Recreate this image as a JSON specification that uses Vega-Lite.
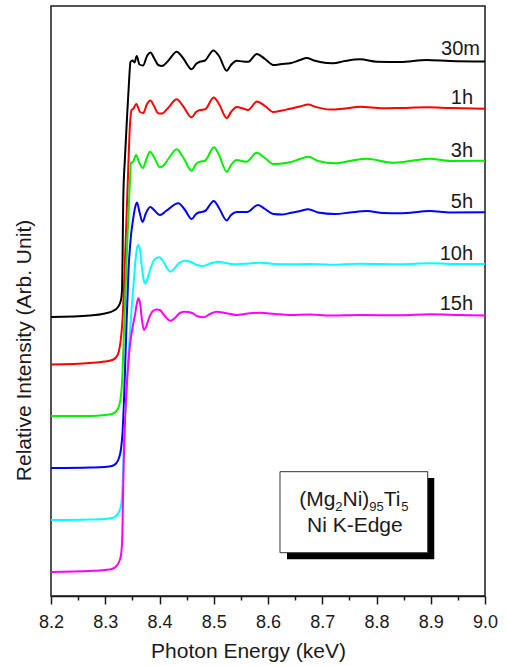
{
  "$schema": "https://vega.github.io/schema/vega-lite/v6.json",
  "width": 434,
  "height": 590,
  "autosize": {"type": "none"},
  "padding": {"left": 51, "top": 6, "right": 22, "bottom": 70},
  "config": {
    "font": "Liberation Sans",
    "view": {"stroke": "#1a1a1a", "strokeWidth": 1.5},
    "axis": {"grid": false}
  },
  "datasets": {
    "curves": [
      {"s":"30m","e":8.2,"v":279},{"s":"30m","e":8.2719,"v":280.5},{"s":"30m","e":8.2995,"v":282.5},{"s":"30m","e":8.3143,"v":285},{"s":"30m","e":8.3235,"v":289},{"s":"30m","e":8.3290,"v":296},{"s":"30m","e":8.3309,"v":306},{"s":"30m","e":8.3333,"v":399},{"s":"30m","e":8.3364,"v":439},{"s":"30m","e":8.3401,"v":478},{"s":"30m","e":8.3438,"v":514},{"s":"30m","e":8.3465,"v":534},{"s":"30m","e":8.3502,"v":535.5},{"s":"30m","e":8.3539,"v":533.5},{"s":"30m","e":8.3580,"v":540},{"s":"30m","e":8.3631,"v":531.5},{"s":"30m","e":8.3696,"v":530.5},{"s":"30m","e":8.3770,"v":540},{"s":"30m","e":8.3834,"v":543.5},{"s":"30m","e":8.3899,"v":538},{"s":"30m","e":8.3978,"v":531},{"s":"30m","e":8.4046,"v":530},{"s":"30m","e":8.4157,"v":535},{"s":"30m","e":8.4317,"v":544.3},{"s":"30m","e":8.4433,"v":538},{"s":"30m","e":8.4594,"v":526.7},{"s":"30m","e":8.4673,"v":532},{"s":"30m","e":8.4747,"v":534.3},{"s":"30m","e":8.4839,"v":535.5},{"s":"30m","e":8.4992,"v":545.5},{"s":"30m","e":8.5097,"v":540},{"s":"30m","e":8.5239,"v":525.3},{"s":"30m","e":8.5318,"v":531},{"s":"30m","e":8.5423,"v":535.3},{"s":"30m","e":8.5539,"v":534.5},{"s":"30m","e":8.5637,"v":534.3},{"s":"30m","e":8.5792,"v":542},{"s":"30m","e":8.5945,"v":537},{"s":"30m","e":8.6098,"v":531},{"s":"30m","e":8.6258,"v":532},{"s":"30m","e":8.6406,"v":532.7},{"s":"30m","e":8.6590,"v":536},{"s":"30m","e":8.6713,"v":538},{"s":"30m","e":8.6848,"v":535.5},{"s":"30m","e":8.6959,"v":534},{"s":"30m","e":8.7198,"v":532.7},{"s":"30m","e":8.7419,"v":535},{"s":"30m","e":8.7696,"v":536.7},{"s":"30m","e":8.8004,"v":534.3},{"s":"30m","e":8.8433,"v":534},{"s":"30m","e":8.8925,"v":536},{"s":"30m","e":8.9355,"v":535},{"s":"30m","e":9.0,"v":534.5},

      {"s":"1h","e":8.2,"v":231.5},{"s":"1h","e":8.2719,"v":233},{"s":"1h","e":8.2995,"v":234.5},{"s":"1h","e":8.3124,"v":236},{"s":"1h","e":8.3198,"v":238.5},{"s":"1h","e":8.3253,"v":245},{"s":"1h","e":8.3290,"v":258},{"s":"1h","e":8.3318,"v":276},{"s":"1h","e":8.3364,"v":336},{"s":"1h","e":8.3410,"v":406},{"s":"1h","e":8.3456,"v":471},{"s":"1h","e":8.3484,"v":486},{"s":"1h","e":8.3521,"v":487.5},{"s":"1h","e":8.3572,"v":492},{"s":"1h","e":8.3641,"v":484},{"s":"1h","e":8.3701,"v":483},{"s":"1h","e":8.3770,"v":492},{"s":"1h","e":8.3834,"v":495.5},{"s":"1h","e":8.3899,"v":490},{"s":"1h","e":8.3978,"v":482.7},{"s":"1h","e":8.4046,"v":482.5},{"s":"1h","e":8.4157,"v":488},{"s":"1h","e":8.4317,"v":496.7},{"s":"1h","e":8.4433,"v":490},{"s":"1h","e":8.4594,"v":478.7},{"s":"1h","e":8.4673,"v":484},{"s":"1h","e":8.4747,"v":486},{"s":"1h","e":8.4839,"v":486.7},{"s":"1h","e":8.5001,"v":498.5},{"s":"1h","e":8.5097,"v":492},{"s":"1h","e":8.5239,"v":478},{"s":"1h","e":8.5318,"v":484},{"s":"1h","e":8.5423,"v":489},{"s":"1h","e":8.5539,"v":487.5},{"s":"1h","e":8.5631,"v":486},{"s":"1h","e":8.5797,"v":494.5},{"s":"1h","e":8.5945,"v":490},{"s":"1h","e":8.6098,"v":484},{"s":"1h","e":8.6258,"v":485.5},{"s":"1h","e":8.6406,"v":487.3},{"s":"1h","e":8.6590,"v":489.5},{"s":"1h","e":8.6737,"v":491.5},{"s":"1h","e":8.6885,"v":489},{"s":"1h","e":8.7143,"v":486.5},{"s":"1h","e":8.7419,"v":487.5},{"s":"1h","e":8.7696,"v":489.3},{"s":"1h","e":8.8120,"v":487.7},{"s":"1h","e":8.8433,"v":488},{"s":"1h","e":8.8925,"v":488.7},{"s":"1h","e":8.9355,"v":488},{"s":"1h","e":9.0,"v":487.3},

      {"s":"3h","e":8.2,"v":180},{"s":"3h","e":8.2719,"v":180},{"s":"3h","e":8.2995,"v":181},{"s":"3h","e":8.3124,"v":182},{"s":"3h","e":8.3198,"v":184.5},{"s":"3h","e":8.3253,"v":190},{"s":"3h","e":8.3287,"v":199},{"s":"3h","e":8.3309,"v":213},{"s":"3h","e":8.3346,"v":266},{"s":"3h","e":8.3401,"v":346},{"s":"3h","e":8.3447,"v":406},{"s":"3h","e":8.3475,"v":433},{"s":"3h","e":8.3517,"v":434.5},{"s":"3h","e":8.3567,"v":441},{"s":"3h","e":8.3622,"v":434},{"s":"3h","e":8.3690,"v":428},{"s":"3h","e":8.3760,"v":437},{"s":"3h","e":8.3825,"v":444.3},{"s":"3h","e":8.3899,"v":439},{"s":"3h","e":8.4009,"v":428.7},{"s":"3h","e":8.4083,"v":431},{"s":"3h","e":8.4175,"v":438},{"s":"3h","e":8.4317,"v":446.7},{"s":"3h","e":8.4433,"v":439},{"s":"3h","e":8.4594,"v":425.3},{"s":"3h","e":8.4673,"v":432},{"s":"3h","e":8.4747,"v":434.3},{"s":"3h","e":8.4839,"v":435.3},{"s":"3h","e":8.5005,"v":448.7},{"s":"3h","e":8.5097,"v":441},{"s":"3h","e":8.5239,"v":424.3},{"s":"3h","e":8.5318,"v":431},{"s":"3h","e":8.5423,"v":436},{"s":"3h","e":8.5512,"v":435},{"s":"3h","e":8.5607,"v":434.3},{"s":"3h","e":8.5792,"v":443.3},{"s":"3h","e":8.5945,"v":438},{"s":"3h","e":8.6098,"v":432},{"s":"3h","e":8.6258,"v":432.5},{"s":"3h","e":8.6406,"v":433.7},{"s":"3h","e":8.6590,"v":437},{"s":"3h","e":8.6743,"v":439.3},{"s":"3h","e":8.6922,"v":435},{"s":"3h","e":8.7235,"v":432.7},{"s":"3h","e":8.7512,"v":435},{"s":"3h","e":8.7820,"v":437.3},{"s":"3h","e":8.8304,"v":433.3},{"s":"3h","e":8.8618,"v":435},{"s":"3h","e":8.8986,"v":437.3},{"s":"3h","e":8.9355,"v":435},{"s":"3h","e":9.0,"v":435.3},

      {"s":"5h","e":8.2,"v":128},{"s":"5h","e":8.2719,"v":128.5},{"s":"5h","e":8.2995,"v":129},{"s":"5h","e":8.3124,"v":130},{"s":"5h","e":8.3198,"v":132.5},{"s":"5h","e":8.3253,"v":138},{"s":"5h","e":8.3290,"v":147},{"s":"5h","e":8.3318,"v":163},{"s":"5h","e":8.3346,"v":196},{"s":"5h","e":8.3382,"v":256},{"s":"5h","e":8.3429,"v":326},{"s":"5h","e":8.3475,"v":361},{"s":"5h","e":8.3512,"v":376},{"s":"5h","e":8.3548,"v":388},{"s":"5h","e":8.3585,"v":393.5},{"s":"5h","e":8.3631,"v":384},{"s":"5h","e":8.3687,"v":374},{"s":"5h","e":8.3751,"v":383},{"s":"5h","e":8.3830,"v":389},{"s":"5h","e":8.3899,"v":386},{"s":"5h","e":8.4009,"v":381},{"s":"5h","e":8.4120,"v":385},{"s":"5h","e":8.4347,"v":392.7},{"s":"5h","e":8.4470,"v":386},{"s":"5h","e":8.4594,"v":377},{"s":"5h","e":8.4673,"v":382},{"s":"5h","e":8.4765,"v":384},{"s":"5h","e":8.4839,"v":385},{"s":"5h","e":8.5001,"v":395},{"s":"5h","e":8.5097,"v":388},{"s":"5h","e":8.5239,"v":375.5},{"s":"5h","e":8.5318,"v":381},{"s":"5h","e":8.5423,"v":384},{"s":"5h","e":8.5521,"v":384},{"s":"5h","e":8.5613,"v":384},{"s":"5h","e":8.5816,"v":391},{"s":"5h","e":8.5945,"v":387},{"s":"5h","e":8.6098,"v":382},{"s":"5h","e":8.6258,"v":381.5},{"s":"5h","e":8.6406,"v":383},{"s":"5h","e":8.6590,"v":385},{"s":"5h","e":8.6743,"v":386.7},{"s":"5h","e":8.6922,"v":383.5},{"s":"5h","e":8.7235,"v":382},{"s":"5h","e":8.7512,"v":383.5},{"s":"5h","e":8.7820,"v":385},{"s":"5h","e":8.8120,"v":383},{"s":"5h","e":8.8433,"v":382.7},{"s":"5h","e":8.8986,"v":385},{"s":"5h","e":8.9355,"v":383.5},{"s":"5h","e":9.0,"v":383.7},

      {"s":"10h","e":8.2,"v":76},{"s":"10h","e":8.2719,"v":76.5},{"s":"10h","e":8.2995,"v":77},{"s":"10h","e":8.3124,"v":78},{"s":"10h","e":8.3198,"v":80},{"s":"10h","e":8.3253,"v":84},{"s":"10h","e":8.3290,"v":90},{"s":"10h","e":8.3314,"v":104},{"s":"10h","e":8.3336,"v":136},{"s":"10h","e":8.3364,"v":176},{"s":"10h","e":8.3401,"v":216},{"s":"10h","e":8.3447,"v":256},{"s":"10h","e":8.3484,"v":286},{"s":"10h","e":8.3521,"v":311},{"s":"10h","e":8.3558,"v":336},{"s":"10h","e":8.3585,"v":348},{"s":"10h","e":8.3609,"v":351},{"s":"10h","e":8.3641,"v":346},{"s":"10h","e":8.3677,"v":328},{"s":"10h","e":8.3709,"v":316},{"s":"10h","e":8.3733,"v":312.7},{"s":"10h","e":8.3770,"v":316},{"s":"10h","e":8.3843,"v":329},{"s":"10h","e":8.3917,"v":337},{"s":"10h","e":8.3996,"v":338.7},{"s":"10h","e":8.4065,"v":335},{"s":"10h","e":8.4138,"v":328},{"s":"10h","e":8.4206,"v":324.3},{"s":"10h","e":8.4267,"v":327},{"s":"10h","e":8.4359,"v":333},{"s":"10h","e":8.4470,"v":335.3},{"s":"10h","e":8.4581,"v":334},{"s":"10h","e":8.4691,"v":331},{"s":"10h","e":8.4807,"v":330},{"s":"10h","e":8.4931,"v":332.5},{"s":"10h","e":8.5084,"v":334.3},{"s":"10h","e":8.5226,"v":333},{"s":"10h","e":8.5423,"v":331.7},{"s":"10h","e":8.5631,"v":332.5},{"s":"10h","e":8.5853,"v":333.3},{"s":"10h","e":8.6129,"v":332},{"s":"10h","e":8.6406,"v":331.7},{"s":"10h","e":8.6774,"v":332},{"s":"10h","e":8.7143,"v":331.3},{"s":"10h","e":8.7696,"v":332.3},{"s":"10h","e":8.8433,"v":331.8},{"s":"10h","e":8.8986,"v":332.7},{"s":"10h","e":8.9539,"v":332},{"s":"10h","e":9.0,"v":332},

      {"s":"15h","e":8.2,"v":24},{"s":"15h","e":8.2719,"v":25},{"s":"15h","e":8.2995,"v":26},{"s":"15h","e":8.3124,"v":27},{"s":"15h","e":8.3198,"v":29.5},{"s":"15h","e":8.3253,"v":34},{"s":"15h","e":8.3290,"v":41},{"s":"15h","e":8.3312,"v":56},{"s":"15h","e":8.3327,"v":96},{"s":"15h","e":8.3346,"v":146},{"s":"15h","e":8.3373,"v":186},{"s":"15h","e":8.3410,"v":221},{"s":"15h","e":8.3456,"v":251},{"s":"15h","e":8.3502,"v":268},{"s":"15h","e":8.3548,"v":281},{"s":"15h","e":8.3585,"v":293},{"s":"15h","e":8.3609,"v":297.7},{"s":"15h","e":8.3641,"v":293},{"s":"15h","e":8.3677,"v":276},{"s":"15h","e":8.3714,"v":266},{"s":"15h","e":8.3751,"v":269},{"s":"15h","e":8.3806,"v":278},{"s":"15h","e":8.3880,"v":285},{"s":"15h","e":8.3948,"v":286.5},{"s":"15h","e":8.4009,"v":286},{"s":"15h","e":8.4083,"v":281},{"s":"15h","e":8.4206,"v":275.3},{"s":"15h","e":8.4286,"v":278},{"s":"15h","e":8.4378,"v":283},{"s":"15h","e":8.4470,"v":284.3},{"s":"15h","e":8.4599,"v":283},{"s":"15h","e":8.4691,"v":280},{"s":"15h","e":8.4807,"v":278.7},{"s":"15h","e":8.4931,"v":282},{"s":"15h","e":8.5054,"v":284.3},{"s":"15h","e":8.5207,"v":283},{"s":"15h","e":8.5423,"v":281},{"s":"15h","e":8.5631,"v":282.5},{"s":"15h","e":8.5853,"v":283.3},{"s":"15h","e":8.6129,"v":282},{"s":"15h","e":8.6406,"v":281},{"s":"15h","e":8.6774,"v":281.5},{"s":"15h","e":8.7143,"v":280.5},{"s":"15h","e":8.7696,"v":281},{"s":"15h","e":8.8433,"v":280.7},{"s":"15h","e":8.8986,"v":281.7},{"s":"15h","e":8.9539,"v":281},{"s":"15h","e":9.0,"v":280.5}
    ],
    "labels": [
      {"t":"30m","e":8.9908,"v":541},{"t":"1h","e":8.9779,"v":492.5},{"t":"3h","e":8.9779,"v":439},{"t":"5h","e":8.9779,"v":388},{"t":"10h","e":8.9779,"v":336},{"t":"15h","e":8.9779,"v":286}
    ],
    "shadow": [{"e":8.6350,"e2":8.9065,"v":36.7,"v2":118}],
    "box": [{"e":8.6221,"e2":8.8944,"v":43.3,"v2":124.3}],
    "ann": [
      {"t":"(Mg","e":8.6577,"v":90},{"t":"Ni)","e":8.7373,"v":90},{"t":"Ti","e":8.8135,"v":90},{"t":"Ni K-Edge","e":8.6719,"v":64}
    ],
    "sub": [
      {"t":"2","e":8.7241,"v":85},{"t":"95","e":8.7867,"v":85},{"t":"5","e":8.8457,"v":85}
    ]
  },
  "resolve": {"axis": {"x": "independent"}},
  "layer": [
    {
      "data": {"name": "curves"},
      "mark": {"type": "line", "strokeWidth": 2, "interpolate": "monotone"},
      "encoding": {
        "x": {
          "field": "e", "type": "quantitative",
          "scale": {"domain": [8.2, 9.0], "nice": false, "zero": false},
          "axis": {
            "orient": "bottom",
            "title": "Photon Energy (keV)",
            "values": [8.2, 8.3, 8.4, 8.5, 8.6, 8.7, 8.8, 8.9, 9.0],
            "format": ".1f",
            "labelFlush": false,
            "tickSize": 8, "tickWidth": 1.5, "tickColor": "#1a1a1a",
            "domainColor": "#1a1a1a", "domainWidth": 1.5,
            "labelFontSize": 18, "labelColor": "#1a1a1a", "labelBaseline": "alphabetic", "labelPadding": 23,
            "titleFontSize": 21, "titleFontWeight": "normal", "titleColor": "#1a1a1a",
            "titleX": 197, "titleY": 61, "titleBaseline": "alphabetic", "titleAlign": "center"
          }
        },
        "y": {
          "field": "v", "type": "quantitative",
          "scale": {"domain": [0, 590], "nice": false},
          "axis": {
            "title": "Relative Intensity (Arb. Unit)",
            "ticks": false, "labels": false, "domain": false,
            "titleFontSize": 21, "titleFontWeight": "normal", "titleColor": "#1a1a1a",
            "titleAngle": -90, "titleX": -27, "titleY": 344, "titleBaseline": "middle", "titleAlign": "center"
          }
        },
        "color": {
          "field": "s", "type": "nominal",
          "scale": {"domain": ["30m", "1h", "3h", "5h", "10h", "15h"], "range": ["#000000", "#ff0000", "#00f000", "#0000ff", "#00ffff", "#ff00ff"]},
          "legend": null
        }
      }
    },
    {
      "data": {"name": "labels"},
      "mark": {"type": "text", "align": "right", "baseline": "alphabetic", "fontSize": 20, "color": "#1a1a1a"},
      "encoding": {
        "x": {
          "field": "e", "type": "quantitative",
          "axis": {
            "orient": "bottom", "title": null, "labels": false, "domain": false,
            "values": [8.25, 8.35, 8.45, 8.55, 8.65, 8.75, 8.85, 8.95],
            "tickSize": 4, "tickWidth": 1.5, "tickColor": "#1a1a1a"
          }
        },
        "y": {"field": "v", "type": "quantitative"},
        "text": {"field": "t"}
      }
    },
    {
      "data": {"name": "shadow"},
      "mark": {"type": "rect", "fill": "#000000"},
      "encoding": {
        "x": {"field": "e", "type": "quantitative", "axis": null},
        "x2": {"field": "e2"},
        "y": {"field": "v", "type": "quantitative"},
        "y2": {"field": "v2"}
      }
    },
    {
      "data": {"name": "box"},
      "mark": {"type": "rect", "fill": "#ffffff", "stroke": "#333333", "strokeWidth": 1},
      "encoding": {
        "x": {"field": "e", "type": "quantitative", "axis": null},
        "x2": {"field": "e2"},
        "y": {"field": "v", "type": "quantitative"},
        "y2": {"field": "v2"}
      }
    },
    {
      "data": {"name": "ann"},
      "mark": {"type": "text", "align": "left", "baseline": "alphabetic", "fontSize": 21, "color": "#1a1a1a"},
      "encoding": {
        "x": {"field": "e", "type": "quantitative", "axis": null},
        "y": {"field": "v", "type": "quantitative"},
        "text": {"field": "t"}
      }
    },
    {
      "data": {"name": "sub"},
      "mark": {"type": "text", "align": "left", "baseline": "alphabetic", "fontSize": 13, "color": "#1a1a1a"},
      "encoding": {
        "x": {"field": "e", "type": "quantitative", "axis": null},
        "y": {"field": "v", "type": "quantitative"},
        "text": {"field": "t"}
      }
    }
  ]
}
